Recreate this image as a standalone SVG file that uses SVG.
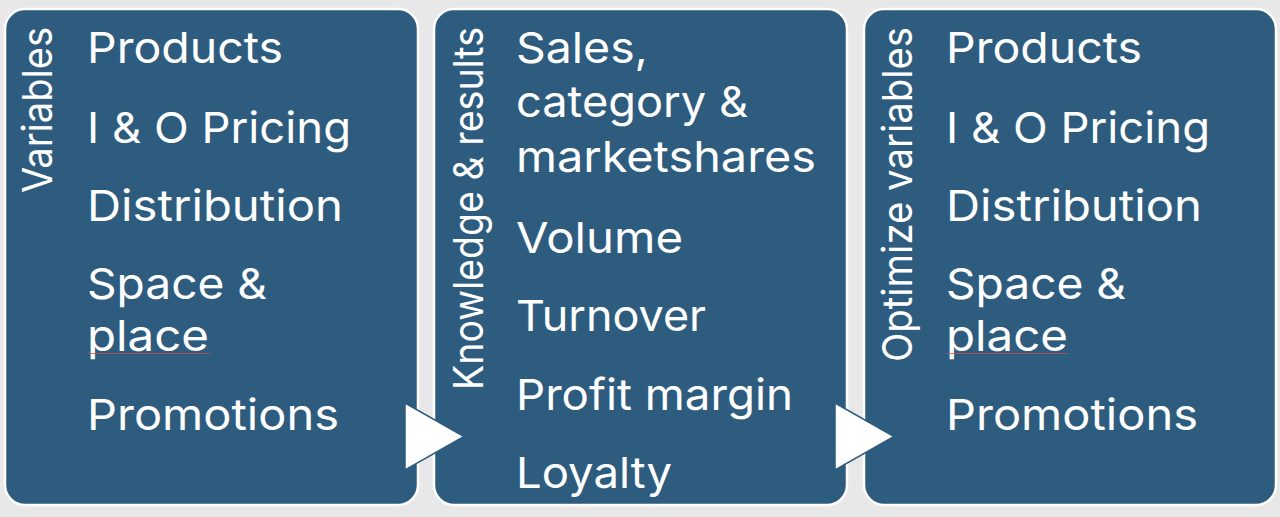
<svg xmlns="http://www.w3.org/2000/svg" width="1280" height="517" viewBox="0 0 1280 517">
  <style>
    .box { fill: #2E5C7F; stroke: #FFFFFF; stroke-width: 2.5; }
    .t { font-family: Inter, "Open Sans", "Liberation Sans", sans-serif; font-size: 43px; fill: #FFFFFF; }
    .v { font-family: Inter, "Open Sans", "Liberation Sans", sans-serif; font-size: 41px; fill: #FFFFFF; text-anchor: end; }
    .arrow { fill: #FFFFFF; stroke: #2E5C7F; stroke-width: 1.5; stroke-linejoin: miter; }
    .squiggle { stroke: #C0504D; stroke-width: 1.2; fill: none; opacity: 0.8; }
  </style>
  <rect x="0" y="0" width="1280" height="517" fill="#E8E8E8"/>

  <g id="node-variables">
    <rect class="box" x="5" y="9" width="413" height="496" rx="20" ry="20"/>
    <text class="v" transform="translate(52,27) rotate(-90)" textLength="166" lengthAdjust="spacingAndGlyphs">Variables</text>
    <text class="t" x="87" y="63" textLength="196" lengthAdjust="spacingAndGlyphs">Products</text>
    <text class="t" x="87" y="143" textLength="264" lengthAdjust="spacingAndGlyphs">I &amp; O Pricing</text>
    <text class="t" x="87" y="221" textLength="256" lengthAdjust="spacingAndGlyphs">Distribution</text>
    <text class="t" x="87" y="299" textLength="180" lengthAdjust="spacingAndGlyphs">Space &amp;</text>
    <text class="t" x="87" y="351" textLength="122" lengthAdjust="spacingAndGlyphs">place</text>
    <line class="squiggle" x1="87" y1="353.5" x2="210" y2="353.5"/>
    <text class="t" x="87" y="430" textLength="252" lengthAdjust="spacingAndGlyphs">Promotions</text>
  </g>

  <g id="node-knowledge">
    <rect class="box" x="434" y="9" width="413" height="496" rx="20" ry="20"/>
    <text class="v" transform="translate(483,27) rotate(-90)" textLength="363" lengthAdjust="spacingAndGlyphs">Knowledge &amp; results</text>
    <text class="t" x="516" y="63" textLength="132" lengthAdjust="spacingAndGlyphs">Sales,</text>
    <text class="t" x="516" y="117" textLength="232" lengthAdjust="spacingAndGlyphs">category &amp;</text>
    <text class="t" x="516" y="172" textLength="300" lengthAdjust="spacingAndGlyphs">marketshares</text>
    <text class="t" x="516" y="253" textLength="167" lengthAdjust="spacingAndGlyphs">Volume</text>
    <text class="t" x="516" y="331" textLength="190" lengthAdjust="spacingAndGlyphs">Turnover</text>
    <text class="t" x="516" y="410" textLength="277" lengthAdjust="spacingAndGlyphs">Profit margin</text>
    <text class="t" x="516" y="488" textLength="156" lengthAdjust="spacingAndGlyphs">Loyalty</text>
  </g>

  <g id="node-optimize">
    <rect class="box" x="864" y="9" width="412" height="496" rx="20" ry="20"/>
    <text class="v" transform="translate(912,27) rotate(-90)" textLength="335" lengthAdjust="spacingAndGlyphs">Optimize variables</text>
    <text class="t" x="946" y="63" textLength="196" lengthAdjust="spacingAndGlyphs">Products</text>
    <text class="t" x="946" y="143" textLength="264" lengthAdjust="spacingAndGlyphs">I &amp; O Pricing</text>
    <text class="t" x="946" y="221" textLength="256" lengthAdjust="spacingAndGlyphs">Distribution</text>
    <text class="t" x="946" y="299" textLength="180" lengthAdjust="spacingAndGlyphs">Space &amp;</text>
    <text class="t" x="946" y="351" textLength="122" lengthAdjust="spacingAndGlyphs">place</text>
    <line class="squiggle" x1="947" y1="353.5" x2="1068" y2="353.5"/>
    <text class="t" x="946" y="430" textLength="252" lengthAdjust="spacingAndGlyphs">Promotions</text>
  </g>

  <g id="connectors">
    <polygon class="arrow" points="405,403 464,436.5 405,470"/>
    <polygon class="arrow" points="835,403 894,436.5 835,470"/>
  </g>
</svg>
